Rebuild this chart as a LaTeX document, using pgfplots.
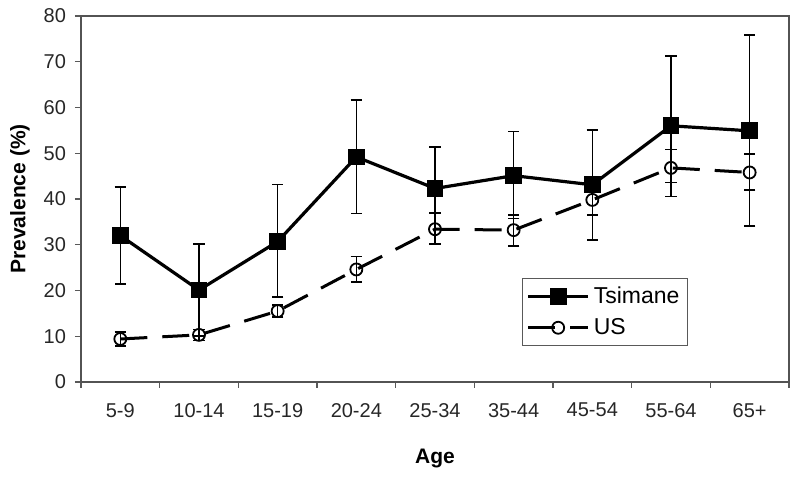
\documentclass[border=0pt]{standalone}
\usepackage{fontspec}
\setmainfont{Liberation Sans}
\usepackage{pgfplots}
\pgfplotsset{compat=1.18}
\begin{document}
\begin{tikzpicture}
\useasboundingbox (-40.5pt,-49.5pt) rectangle (359.5pt,191pt);
\begin{axis}[
  at={(0pt,0pt)}, anchor=south west,
  scale only axis, width=354pt, height=183pt,
  xmin=-0.5, xmax=8.5, ymin=0, ymax=80,
  xtick={0,...,8},
  xticklabels={5-9,10-14,15-19,20-24,25-34,35-44,45-54,55-64,65+},
  major x tick style={draw=none},
  minor xtick={-0.5,0.5,...,8.5},
  minor x tick style={gray!70!black, line width=0.6pt},
  minor tick length=3pt,
  ytick={0,10,...,80},
  major tick length=3pt,
  y tick style={gray!70!black, line width=0.6pt},
  tick align=outside, tick pos=left,
  axis line style={gray!65!black, line width=0.7pt},
  /pgf/number format/assume math mode=true,
  tick label style={font=\fontsize{10}{12}\selectfont, text=black!85},
  xticklabel style={yshift=-4pt},
  yticklabel style={xshift=-1pt},
  xlabel={\bfseries Age},
  ylabel={\bfseries Prevalence (\%)},
  label style={font=\fontsize{10.5}{12}\selectfont},
  xlabel style={at={(axis description cs:0.5,-0.2077)}, anchor=center},
  ylabel style={at={(axis description cs:-0.0862,0.5)}, anchor=center},
  legend style={at={(axis description cs:0.623,0.284)}, anchor=north west,
    draw=gray!70!black, line width=0.5pt, font=\fontsize{11.5}{13}\selectfont,
    inner xsep=2pt, inner ysep=2pt, row sep=2pt},
  legend cell align=left,
  legend image code/.code={
    \draw[mark repeat=2,mark phase=2] plot coordinates {(0pt,0pt) (15pt,0pt) (30pt,0pt)};
  },
]
\addplot[black, line width=1.6pt, mark=square*, mark size=3.4pt,
  mark options={solid},
  error bars/.cd, y dir=both, y explicit,
  error bar style={solid, line width=0.75pt},
  error mark options={rotate=90, mark size=2.8pt, line width=0.75pt}]
coordinates {
(0,32.0) += (0,10.6) -= (0,10.6)
(1,20.1) += (0,10.1) -= (0,10.1)
(2,30.7) += (0,12.5) -= (0,12.1)
(3,49.2) += (0,12.4) -= (0,12.4)
(4,42.3) += (0,9.1) -= (0,5.4)
(5,45.1) += (0,9.6) -= (0,9.4)
(6,43.1) += (0,12.0) -= (0,12.1)
(7,56.0) += (0,15.3) -= (0,15.4)
(8,54.9) += (0,20.9) -= (0,20.8)
};
\addlegendentry{Tsimane}
\addplot[black, line width=1.5pt, dash pattern=on 13.5pt off 7.5pt,
  mark=o, mark size=3pt, mark options={solid, fill=white, line width=0.9pt},
  error bars/.cd, y dir=both, y explicit,
  error bar style={solid, line width=0.75pt},
  error mark options={rotate=90, mark size=2.8pt, line width=0.75pt}]
coordinates {
(0,9.4) += (0,1.5) -= (0,1.5)
(1,10.3) += (0,1.2) -= (0,1.2)
(2,15.5) += (0,1.3) -= (0,1.3)
(3,24.6) += (0,2.8) -= (0,2.7)
(4,33.4) += (0,3.4) -= (0,3.2)
(5,33.2) += (0,3.3) -= (0,3.5)
(6,39.8) += (0,3.4) -= (0,3.3)
(7,46.8) += (0,4.0) -= (0,3.2)
(8,45.8) += (0,4.0) -= (0,3.8)
};
\addlegendentry{US}
\end{axis}
\end{tikzpicture}
\end{document}
